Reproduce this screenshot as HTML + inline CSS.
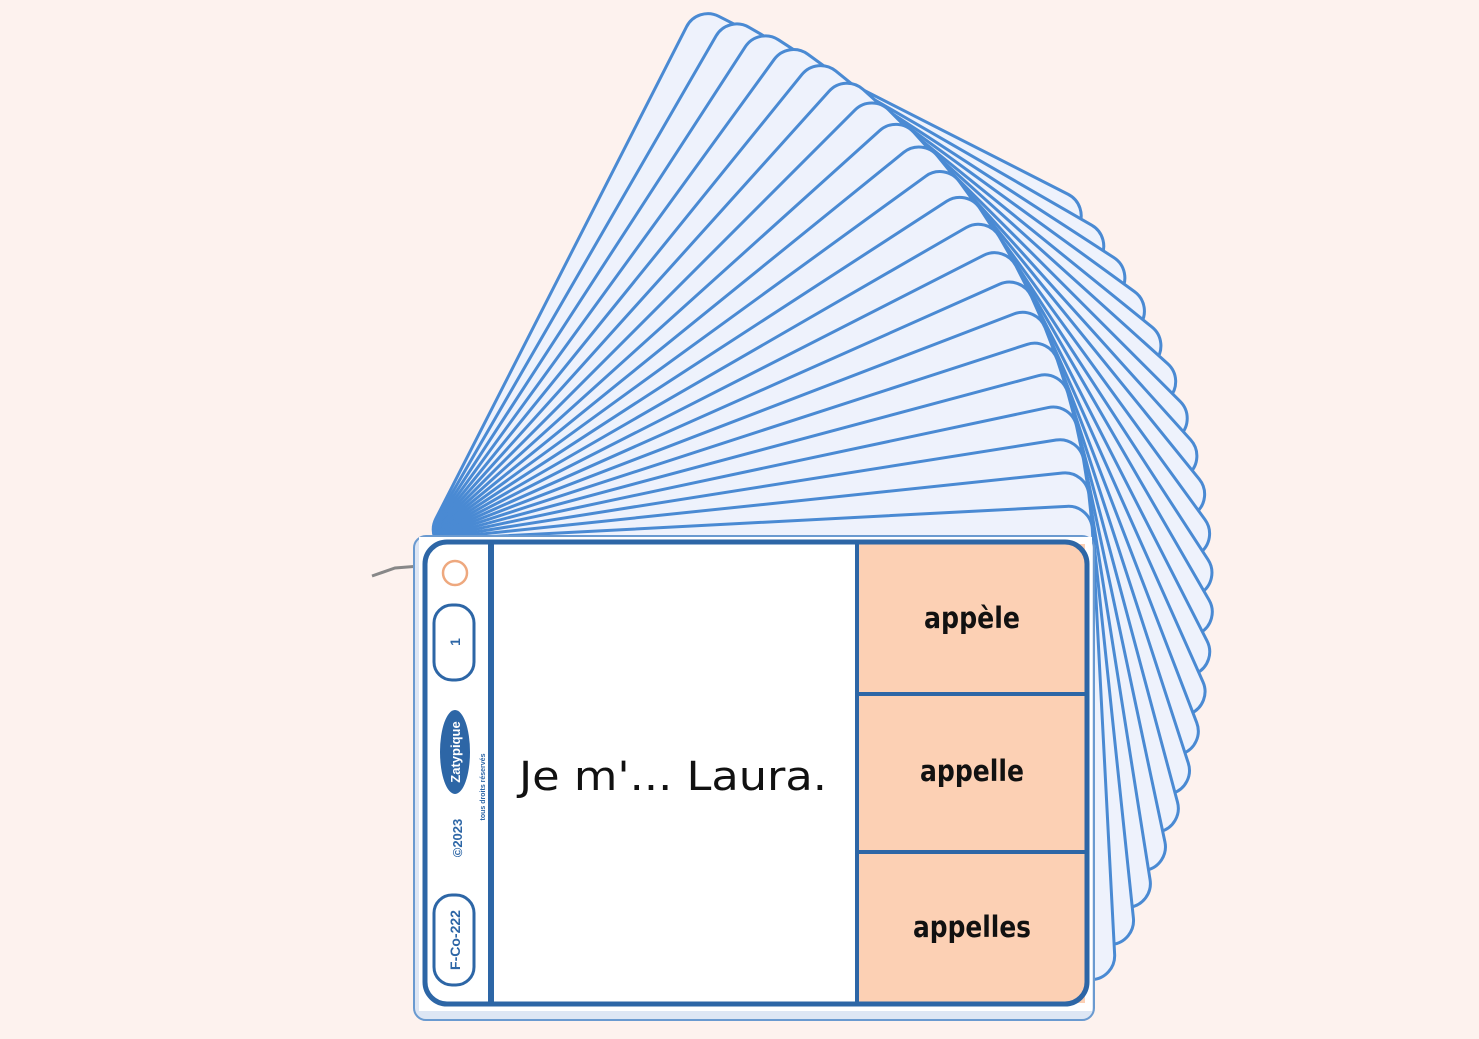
<!DOCTYPE html>
<html><head><meta charset="utf-8"><style>
html,body{margin:0;padding:0;background:#fdf2ee;}
svg{display:block;}
</style></head><body>
<svg width="1479" height="1039" viewBox="0 0 1479 1039" xmlns="http://www.w3.org/2000/svg">
<rect width="1479" height="1039" fill="#fdf2ee"/>
<g fill="#eef2fc" stroke="#4a8ad3" stroke-width="3">
<rect x="425" y="540" width="600" height="440" rx="24" transform="rotate(-63 425 540)"/>
<rect x="425" y="540" width="606" height="444" rx="24" transform="rotate(-60 425 540)"/>
<rect x="425" y="540" width="612" height="448" rx="24" transform="rotate(-57 425 540)"/>
<rect x="425" y="540" width="618" height="452" rx="24" transform="rotate(-54 425 540)"/>
<rect x="425" y="540" width="623" height="455" rx="24" transform="rotate(-51 425 540)"/>
<rect x="425" y="540" width="628" height="458" rx="24" transform="rotate(-48 425 540)"/>
<rect x="425" y="540" width="632" height="460" rx="24" transform="rotate(-45 425 540)"/>
<rect x="425" y="540" width="636" height="462" rx="24" transform="rotate(-42 425 540)"/>
<rect x="425" y="540" width="640" height="464" rx="24" transform="rotate(-39 425 540)"/>
<rect x="425" y="540" width="643" height="466" rx="24" transform="rotate(-36 425 540)"/>
<rect x="425" y="540" width="646" height="467" rx="24" transform="rotate(-33 425 540)"/>
<rect x="425" y="540" width="649" height="468" rx="24" transform="rotate(-30 425 540)"/>
<rect x="425" y="540" width="651" height="469" rx="24" transform="rotate(-27 425 540)"/>
<rect x="425" y="540" width="653" height="470" rx="24" transform="rotate(-24 425 540)"/>
<rect x="425" y="540" width="655" height="471" rx="24" transform="rotate(-21 425 540)"/>
<rect x="425" y="540" width="657" height="472" rx="24" transform="rotate(-18 425 540)"/>
<rect x="425" y="540" width="659" height="472" rx="24" transform="rotate(-15 425 540)"/>
<rect x="425" y="540" width="661" height="473" rx="24" transform="rotate(-12 425 540)"/>
<rect x="425" y="540" width="663" height="473" rx="24" transform="rotate(-9 425 540)"/>
<rect x="425" y="540" width="665" height="474" rx="24" transform="rotate(-6 425 540)"/>
<rect x="425" y="540" width="667" height="474" rx="24" transform="rotate(-3 425 540)"/>
</g>
<path d="M372 576 L395 568 L420 566" stroke="#888" stroke-width="3" fill="none"/>
<rect x="414" y="536" width="680" height="484" rx="12" fill="#dde6f4" stroke="#6a9ad0" stroke-width="2"/>
<rect x="419" y="537" width="673" height="474" fill="#ffffff"/>
<rect x="859" y="544" width="226" height="459" fill="#fcd0b4"/>
<rect x="425" y="542" width="662" height="462" rx="22" fill="none" stroke="#2d66a6" stroke-width="5"/>
<line x1="491" y1="542" x2="491" y2="1004" stroke="#2d66a6" stroke-width="6"/>
<line x1="857" y1="542" x2="857" y2="1004" stroke="#2d66a6" stroke-width="4"/>
<line x1="858" y1="694" x2="1086" y2="694" stroke="#2d66a6" stroke-width="4"/>
<line x1="858" y1="852" x2="1086" y2="852" stroke="#2d66a6" stroke-width="4"/>
<circle cx="455" cy="573" r="12" fill="none" stroke="#eea87e" stroke-width="2.5"/>
<rect x="434" y="605" width="40" height="75" rx="18" fill="none" stroke="#2d66a6" stroke-width="3"/>
<text transform="translate(460 642) rotate(-90)" text-anchor="middle" font-family="Liberation Sans, sans-serif" font-weight="bold" font-size="14" fill="#2d66a6">1</text>
<ellipse cx="455" cy="752" rx="15" ry="42" fill="#2d66a6"/>
<text transform="translate(460 752) rotate(-90)" text-anchor="middle" font-family="Liberation Sans, sans-serif" font-weight="bold" font-size="13" fill="#fff">Zatypique</text>
<text transform="translate(462 838) rotate(-90)" text-anchor="middle" font-family="Liberation Sans, sans-serif" font-weight="bold" font-size="13" fill="#2d66a6">©2023</text>
<text transform="translate(485 787) rotate(-90)" text-anchor="middle" font-family="Liberation Sans, sans-serif" font-weight="bold" font-size="7" fill="#2d66a6">tous droits réservés</text>
<rect x="434" y="895" width="40" height="90" rx="18" fill="none" stroke="#2d66a6" stroke-width="3"/>
<text transform="translate(460 940) rotate(-90)" text-anchor="middle" font-family="Liberation Sans, sans-serif" font-weight="bold" font-size="14" fill="#2d66a6">F-Co-222</text>
<text x="673" y="790" text-anchor="middle" font-family="DejaVu Sans, sans-serif" font-size="40" textLength="308" lengthAdjust="spacingAndGlyphs" fill="#111">Je m'... Laura.</text>
<g font-family="DejaVu Sans, sans-serif" font-weight="bold" font-size="29" fill="#111" text-anchor="middle">
<text x="972" y="628" textLength="96" lengthAdjust="spacingAndGlyphs">appèle</text>
<text x="972" y="781" textLength="104" lengthAdjust="spacingAndGlyphs">appelle</text>
<text x="972" y="937" textLength="118" lengthAdjust="spacingAndGlyphs">appelles</text>
</g>
</svg>
</body></html>
